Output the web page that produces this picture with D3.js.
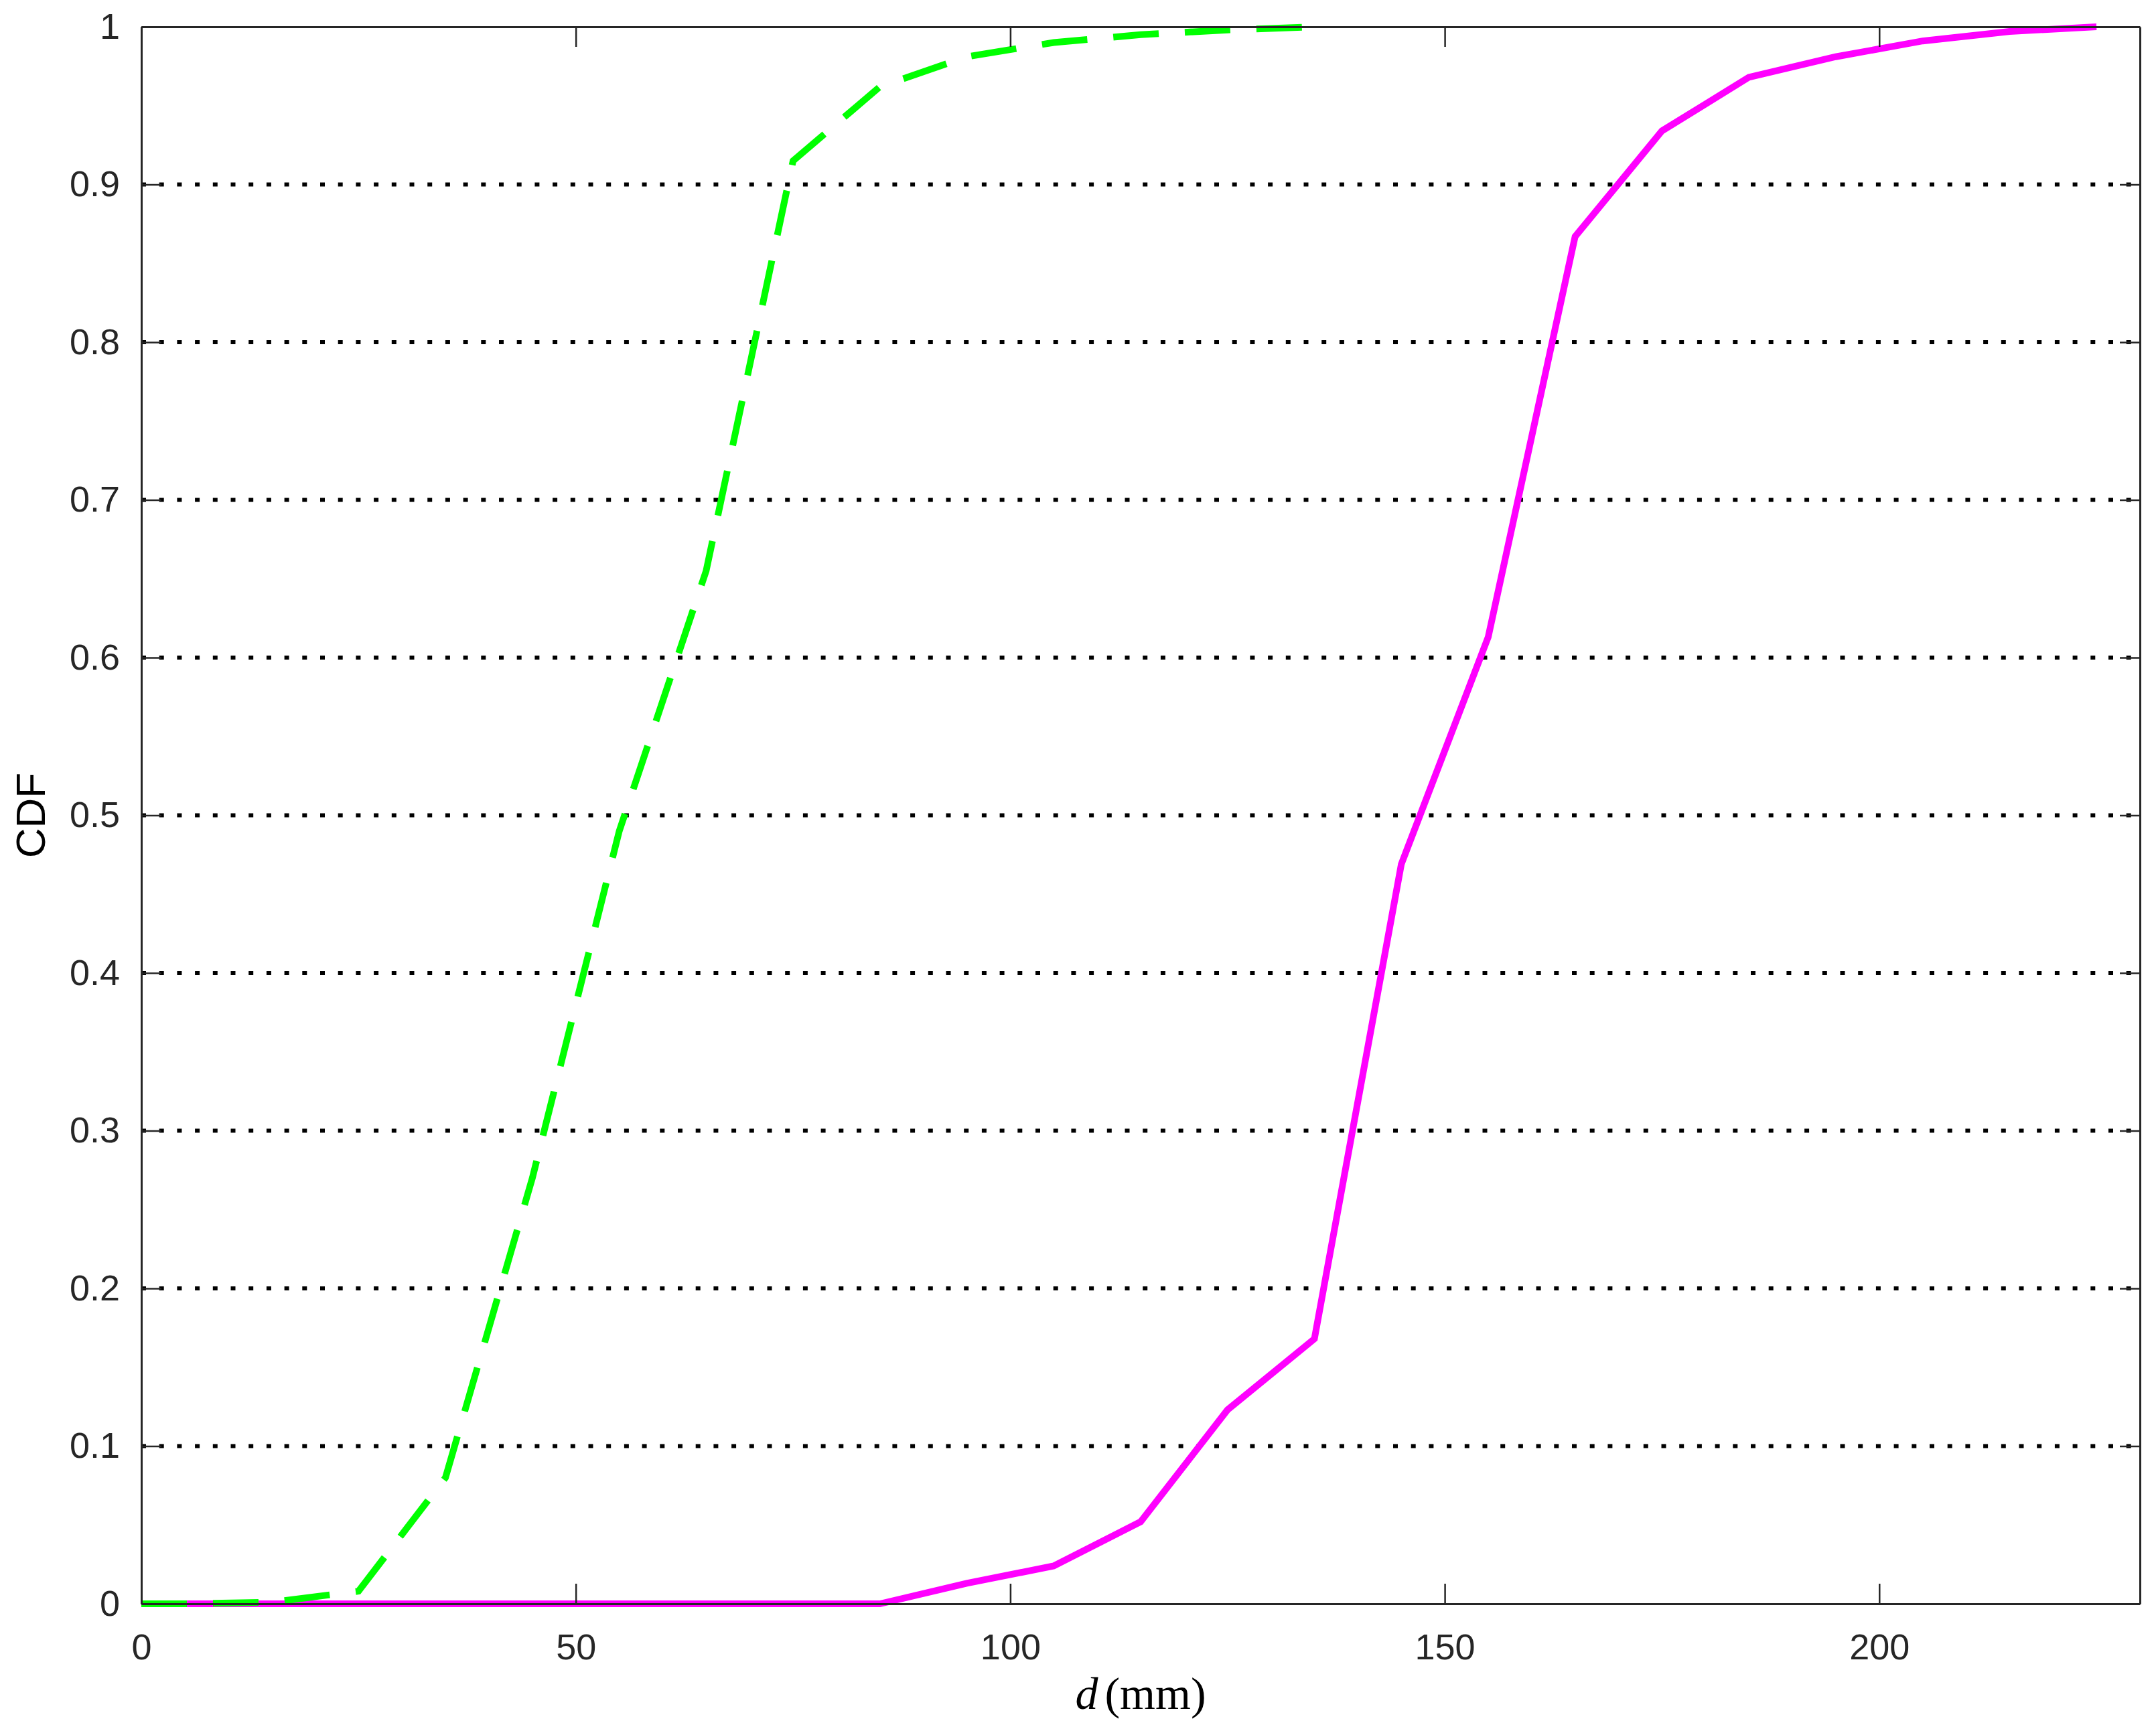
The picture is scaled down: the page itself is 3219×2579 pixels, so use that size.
<!DOCTYPE html>
<meta charset="utf-8">
<style>
  body { margin: 0; background: #fff; }
  .axis text { font: 54px "Liberation Sans", Arial, sans-serif; fill: #262626; }
  .axis path, .axis line { stroke: #262626; }
</style>
<body>
<script src="https://cdn.jsdelivr.net/npm/d3@7"></script>
<script>
  // bin centres along d (mm)
  var dValues = [0, 5, 15, 25, 35, 45, 55, 65, 75, 85, 95, 105, 115, 125, 135,
                 145, 155, 165, 175, 185, 195, 205, 215, 225];
  // dashed green curve, stops at 135
  var cdfGreen = [0, 0, 0.001, 0.008, 0.08, 0.27, 0.49, 0.655, 0.915, 0.962,
                  0.981, 0.990, 0.995, 0.998, 1.0];
  // solid magenta curve
  var cdfMagenta = [0, 0, 0, 0, 0, 0, 0, 0, 0, 0, 0.013, 0.024, 0.052, 0.123,
                    0.168, 0.469, 0.613, 0.867, 0.934, 0.968, 0.981, 0.991, 0.997, 1.0];
  var xTicks = [0, 50, 100, 150, 200];
  var yTicks = [0, 0.1, 0.2, 0.3, 0.4, 0.5, 0.6, 0.7, 0.8, 0.9, 1];

  var W = 3219, H = 2579;
  var margin = {top: 40, right: 24, bottom: 184, left: 211},
      width = W - margin.left - margin.right,
      height = H - margin.top - margin.bottom;

  var svg = d3.select("body").append("svg")
      .attr("width", W)
      .attr("height", H)
    .append("g")
      .attr("transform", "translate(" + margin.left + "," + margin.top + ")");

  var x = d3.scaleLinear().domain([0, 230]).range([0, width]);
  var y = d3.scaleLinear().domain([0, 1]).range([height, 0]);

  // dotted horizontal grid
  svg.append("g").selectAll("line")
      .data(yTicks.filter(function(d) { return d > 0 && d < 1; }))
    .enter().append("line")
      .attr("x1", 0).attr("x2", width)
      .attr("y1", function(d) { return y(d); })
      .attr("y2", function(d) { return y(d); })
      .style("stroke", "#000")
      .style("stroke-width", 6)
      .style("stroke-dasharray", "7,19.7");

  var line = d3.line()
      .x(function(d) { return x(d[0]); })
      .y(function(d) { return y(d[1]); });

  var greenPts = cdfGreen.map(function(v, i) { return [dValues[i], v]; });
  var magPts = cdfMagenta.map(function(v, i) { return [dValues[i], v]; });

  svg.append("path")
      .attr("d", line(magPts))
      .style("fill", "none")
      .style("stroke", "#ff00ff")
      .style("stroke-width", 10);

  svg.append("path")
      .attr("d", line(greenPts))
      .style("fill", "none")
      .style("stroke", "#00ff00")
      .style("stroke-width", 10)
      .style("stroke-dasharray", "68,39");

  // axes, ticks pointing inwards, mirrored on top/right
  var fmt = function(d) { return d3.format("")(d); };
  svg.append("g").attr("class", "axis")
      .attr("transform", "translate(0," + height + ")")
      .call(d3.axisBottom(x).tickValues(xTicks).tickSizeInner(-30).tickSizeOuter(0).tickPadding(45));
  svg.append("g").attr("class", "axis")
      .call(d3.axisLeft(y).tickValues(yTicks).tickFormat(fmt).tickSizeInner(-30).tickSizeOuter(0).tickPadding(32));
  svg.append("g").attr("class", "axis")
      .call(d3.axisTop(x).tickValues(xTicks).tickSizeInner(-30).tickSizeOuter(0).tickFormat(""));
  svg.append("g").attr("class", "axis")
      .attr("transform", "translate(" + width + ",0)")
      .call(d3.axisRight(y).tickValues(yTicks).tickSizeInner(-30).tickSizeOuter(0).tickFormat(""));

  svg.selectAll(".axis .tick line").style("stroke-width", 2.5);
  svg.selectAll(".axis path.domain").style("stroke-width", 3);
  svg.selectAll(".axis text").attr("fill", "#262626");

  // y label
  svg.append("text")
      .attr("transform", "translate(" + (-144) + "," + (height / 2) + ") rotate(-90)")
      .attr("text-anchor", "middle")
      .style("font", "62px 'Liberation Sans', Arial, sans-serif")
      .style("fill", "#000")
      .text("CDF");

  // x label, LaTeX look
  var xl = svg.append("text")
      .attr("x", width / 2)
      .attr("y", height + 157)
      .attr("text-anchor", "middle")
      .style("font", "68px 'Liberation Serif', 'Times New Roman', serif")
      .style("fill", "#000");
  xl.append("tspan").style("font-style", "italic").text("d");
  xl.append("tspan").attr("dx", 10).text("(mm)");
</script>
</body>
